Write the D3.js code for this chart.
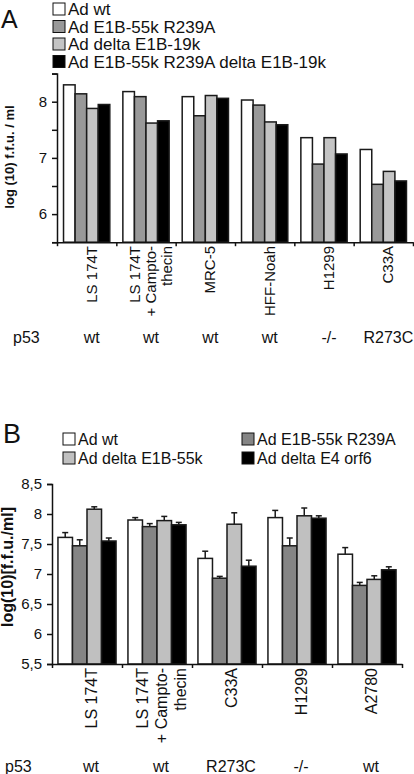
<!DOCTYPE html>
<html>
<head>
<meta charset="utf-8">
<script src="https://cdn.jsdelivr.net/npm/d3@7"></script>
<style>
  html, body { margin: 0; padding: 0; background: #fff; }
  svg { display: block; font-family: "Liberation Sans", Arial, sans-serif; }
</style>
</head>
<body>
<svg id="chart" width="414" height="774"></svg>
<script>
// ---------- Panel A data ----------
const catsA = [["LS 174T"], ["LS 174T", "+ Campto-", "thecin"], ["MRC-5"], ["HFF-Noah"], ["H1299"], ["C33A"]];
const p53A = ["wt", "wt", "wt", "wt", "-/-", "R273C"];
const seriesA = ["Ad wt", "Ad E1B-55k R239A", "Ad delta E1B-19k", "Ad E1B-55k R239A delta E1B-19k"];
const adWtA        = [8.30, 8.18, 8.09, 8.03, 7.36, 7.15];
const r239aA       = [8.14, 8.09, 7.75, 7.94, 6.89, 6.53];
const d19kA        = [7.88, 7.62, 8.11, 7.64, 7.36, 6.76];
const r239aD19kA   = [7.95, 7.66, 8.06, 7.59, 7.07, 6.59];
const ticksA = [5.5, 6, 6.5, 7, 7.5, 8, 8.5];

// ---------- Panel B data ----------
const catsB = [["LS 174T"], ["LS 174T", "+ Campto-", "thecin"], ["C33A"], ["H1299"], ["A2780"]];
const p53B = ["wt", "wt", "R273C", "-/-", "wt"];
const seriesB = ["Ad wt", "Ad E1B-55k R239A", "Ad delta E1B-55k", "Ad delta E4 orf6"];
const adWtB   = [7.61, 7.90, 7.26, 7.94, 7.33];
const r239aB  = [7.47, 7.79, 6.93, 7.47, 6.81];
const d55kB   = [8.08, 7.89, 7.83, 7.97, 6.91];
const dOrf6B  = [7.55, 7.82, 7.13, 7.93, 7.07];
const errAdWtB  = [0.08, 0.04, 0.12, 0.12, 0.11];
const errR239aB = [0.10, 0.05, 0.03, 0.13, 0.05];
const errD55kB  = [0.04, 0.07, 0.19, 0.13, 0.06];
const errDOrf6B = [0.05, 0.04, 0.10, 0.04, 0.05];
const ticksB = [5.5, 6, 6.5, 7, 7.5, 8, 8.5];

const svg = d3.select("#chart");
const FONT = "'Liberation Sans', Arial, sans-serif";

function panel(opts) {
  const g = svg.append("g");
  const y = d3.scaleLinear().domain([5.5, 8.5]).range([opts.yBottom, opts.yTop]);
  const x0 = d3.scaleBand().domain(d3.range(opts.cats.length))
    .range([opts.xLeft, opts.xRight]).paddingInner(opts.padIn).paddingOuter(opts.padOut);
  const x1 = d3.scaleBand().domain(d3.range(opts.series.length)).range([0, x0.bandwidth()]);
  const step = x0.step();
  const groupStart = i => opts.xLeft + i * step;

  // bars
  opts.values.forEach((vals, s) => {
    g.selectAll(null).data(vals).enter().append("rect")
      .attr("x", (d, i) => x0(i) + x1(s))
      .attr("y", d => y(d))
      .attr("width", x1.bandwidth())
      .attr("height", d => y(5.5) - y(d))
      .attr("fill", opts.colors[s])
      .attr("stroke", "#1a1a1a")
      .attr("stroke-width", 1.5);
    if (opts.errors) {
      const errs = opts.errors[s];
      const eg = g.append("g").attr("stroke", "#1a1a1a").attr("stroke-width", 1.5);
      vals.forEach((d, i) => {
        const cx = x0(i) + x1(s) + x1.bandwidth() / 2;
        eg.append("line").attr("x1", cx).attr("x2", cx).attr("y1", y(d)).attr("y2", y(d + errs[i]));
        eg.append("line").attr("x1", cx - 3).attr("x2", cx + 3).attr("y1", y(d + errs[i])).attr("y2", y(d + errs[i]));
      });
    }
  });

  // y axis
  const yAxis = d3.axisLeft(y).tickValues(opts.ticks).tickSize(5).tickPadding(5)
    .tickFormat(opts.tickFormat);
  const ya = g.append("g").attr("transform", `translate(${opts.xLeft},0)`).call(yAxis);
  ya.select(".domain").attr("stroke", "#111").attr("stroke-width", 1.5);
  ya.selectAll(".tick line").attr("stroke", "#111").attr("stroke-width", 1.5);
  ya.selectAll("text").attr("font-size", opts.tickFont).attr("font-family", FONT).attr("fill", "#111");

  // x axis line with boundary ticks
  const xa = d3.axisBottom(d3.scaleLinear().domain([0, opts.cats.length]).range([opts.xLeft, opts.xLeft + step * opts.cats.length]))
    .ticks(opts.cats.length).tickSize(4).tickFormat("").tickSizeOuter(0);
  const xg = g.append("g").attr("transform", `translate(0,${opts.yBottom})`).call(xa);
  xg.select(".domain").attr("stroke", "#111").attr("stroke-width", 1.5);
  xg.selectAll(".tick line").attr("stroke", "#111").attr("stroke-width", 1.5);

  // rotated category labels
  opts.cats.forEach((lines, i) => {
    const cx = x0(i) + x0.bandwidth() / 2;
    const n = lines.length;
    const t = g.append("text")
      .attr("transform", `translate(${cx},${opts.labelTop}) rotate(-90)`)
      .attr("text-anchor", "end")
      .attr("font-size", opts.labelFont)
      .attr("font-family", FONT)
      .attr("fill", "#111");
    lines.forEach((ln, k) => {
      t.append("tspan").attr("x", 0)
        .attr("y", opts.labelOff + (k - (n - 1) / 2) * opts.lineH)
        .text(ln);
    });
  });

  // p53 row
  g.append("text").attr("x", opts.p53X).attr("y", opts.p53Y)
    .attr("font-size", 16).attr("font-family", FONT).attr("fill", "#111").text("p53");
  opts.p53.forEach((s, i) => {
    g.append("text").attr("x", x0(i) + x0.bandwidth() / 2 + opts.p53Off).attr("y", opts.p53Y)
      .attr("text-anchor", "middle").attr("font-size", 16).attr("font-family", FONT)
      .attr("fill", "#111").text(s);
  });

  // y title
  g.append("text")
    .attr("transform", `translate(${opts.titleX},${opts.titleY}) rotate(-90)`)
    .attr("text-anchor", "middle").attr("font-weight", "bold")
    .attr("font-size", opts.titleFont).attr("font-family", FONT).attr("fill", "#111")
    .text(opts.title);

  // panel letter
  g.append("text").attr("x", opts.letterX).attr("y", opts.letterY)
    .attr("font-size", opts.letterFont).attr("font-family", FONT).attr("fill", "#111")
    .text(opts.letter);

  // legend
  opts.legendPos.forEach((p, s) => {
    g.append("rect").attr("x", p[0]).attr("y", p[1] - 6).attr("width", 12).attr("height", 12)
      .attr("fill", opts.colors[s]).attr("stroke", "#111").attr("stroke-width", 1);
    g.append("text").attr("x", p[0] + 15).attr("y", p[1]).attr("dy", "0.36em")
      .attr("font-size", opts.legendFont).attr("font-family", FONT).attr("fill", "#111")
      .text(opts.series[s]);
  });
}

panel({
  cats: catsA, p53: p53A, series: seriesA,
  values: [adWtA, r239aA, d19kA, r239aD19kA],
  colors: ["#ffffff", "#999999", "#c4c4c4", "#000000"],
  ticks: ticksA, tickFormat: d => Number.isInteger(d) ? d : "",
  yTop: 73.6, yBottom: 242.2, xLeft: 57, xRight: 413, padIn: 0.22, padOut: 0.11,
  tickFont: 15, labelTop: 246, labelFont: 15, labelOff: 10, lineH: 16,
  p53X: 13, p53Y: 343, p53Off: 5,
  title: "log (10) f.f.u. / ml", titleX: 14, titleY: 157, titleFont: 13,
  letter: "A", letterX: 1, letterY: 28, letterFont: 25,
  legendPos: [[53, 9], [53, 26.5], [53, 44], [53, 61.5]], legendFont: 17
});

panel({
  cats: catsB, p53: p53B, series: seriesB,
  values: [adWtB, r239aB, d55kB, dOrf6B],
  errors: [errAdWtB, errR239aB, errD55kB, errDOrf6B],
  colors: ["#ffffff", "#858585", "#c0c0c0", "#000000"],
  ticks: ticksB, tickFormat: d => String(d).replace(".", ","),
  yTop: 484, yBottom: 664, xLeft: 52, xRight: 402, padIn: 0.17, padOut: 0.085,
  tickFont: 15, labelTop: 668, labelFont: 16, labelOff: 10, lineH: 19,
  p53X: 5, p53Y: 772, p53Off: 4,
  title: "log(10)[f.f.u./ml]", titleX: 13, titleY: 567, titleFont: 16,
  letter: "B", letterX: 3, letterY: 443, letterFont: 27,
  legendPos: [[63, 439], [242, 439], [63, 458], [242, 458]], legendFont: 16
});
</script>
</body>
</html>
